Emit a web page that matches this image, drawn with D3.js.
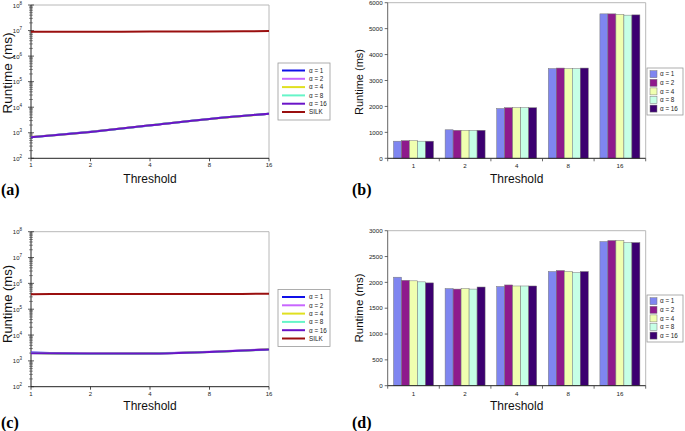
<!DOCTYPE html>
<html><head><meta charset="utf-8">
<script src="https://cdn.jsdelivr.net/npm/d3@7/dist/d3.min.js"></script>
<style>body{margin:0;background:#fff}svg{display:block}</style>
</head><body>
<svg id="c" width="685" height="431"></svg>
<script>
const thresholds = ["1","2","4","8","16"];
const alphaLabels = ["α = 1","α = 2","α = 4","α = 8","α = 16"];
// Dataset 1 (panels a, b): runtime per alpha at each threshold
const runA1  = [660, 1100, 1920, 3460, 5570];
const runA2  = [680, 1080, 1950, 3480, 5570];
const runA4  = [680, 1080, 1950, 3460, 5550];
const runA8  = [660, 1080, 1950, 3460, 5520];
const runA16 = [660, 1080, 1950, 3480, 5530];
const silkTop = [9.0e6, 9.0e6, 9.1e6, 9.2e6, 9.5e6];
// Dataset 2 (panels c, d)
const runB1  = [2100, 1880, 1920, 2210, 2790];
const runB2  = [2040, 1870, 1950, 2230, 2810];
const runB4  = [2030, 1880, 1930, 2210, 2810];
const runB8  = [2010, 1870, 1930, 2190, 2770];
const runB16 = [1990, 1910, 1930, 2210, 2770];
const silkBottom = [3.8e5, 3.9e5, 3.9e5, 3.9e5, 3.95e5];
const barTicksTop = [0,1000,2000,3000,4000,5000,6000];
const barTicksBottom = [0,500,1000,1500,2000,2500,3000];
const logExponents = [2,3,4,5,6,7,8];

const lineColors = ["#1010e8","#c866ff","#e0e020","#66f5c8","#6a14c8","#9a0f0f"];
const barColors = ["#7f86f0","#8e1a8c","#f0ffb0","#c6ffe6","#3c0070"];

const svg = d3.select("#c");
const FONT = "'Liberation Sans', Arial, sans-serif";

function lineChart(o, series, silk) {
  const g = svg.append("g");
  const x = d3.scalePoint().domain(thresholds).range([o.x0, o.x1]);
  const y = d3.scaleLog().domain([1e2, 1e8]).range([o.y1, o.y0]);
  // frame
  g.append("line").attr("x1",o.x0).attr("x2",o.x1).attr("y1",o.y0).attr("y2",o.y0).attr("stroke","#b8b8b8");
  g.append("line").attr("x1",o.x1).attr("x2",o.x1).attr("y1",o.y0).attr("y2",o.y1).attr("stroke","#b8b8b8");
  // y axis with minor ticks
  const minor = [];
  for (let e = 2; e < 8; e++) for (let m = 2; m <= 9; m++) minor.push(m * Math.pow(10, e));
  g.selectAll(".mn").data(minor).join("line")
    .attr("x1",o.x0-2).attr("x2",o.x0+2).attr("y1",d=>y(d)).attr("y2",d=>y(d))
    .attr("stroke","#555").attr("stroke-width",0.6);
  g.selectAll(".mj").data(logExponents).join("line")
    .attr("x1",o.x0-3).attr("x2",o.x0+3).attr("y1",d=>y(Math.pow(10,d))).attr("y2",d=>y(Math.pow(10,d)))
    .attr("stroke","#333").attr("stroke-width",0.8);
  const lab = g.selectAll(".yl").data(logExponents).join("text")
    .attr("x",o.x0-9).attr("y",d=>y(Math.pow(10,d))+2.5)
    .attr("text-anchor","end").attr("font-family",FONT).attr("font-size",6).attr("fill","#222");
  lab.append("tspan").text("10");
  lab.append("tspan").attr("dy",-3).attr("font-size",4.5).text(d=>d);
  g.append("line").attr("x1",o.x0).attr("x2",o.x0).attr("y1",o.y0).attr("y2",o.y1).attr("stroke","#222").attr("stroke-width",1);
  // x axis
  g.append("line").attr("x1",o.x0).attr("x2",o.x1).attr("y1",o.y1).attr("y2",o.y1).attr("stroke","#222").attr("stroke-width",1);
  g.selectAll(".xt").data(thresholds).join("line")
    .attr("x1",d=>x(d)).attr("x2",d=>x(d)).attr("y1",o.y1).attr("y2",o.y1+3).attr("stroke","#222").attr("stroke-width",0.8);
  g.selectAll(".xl").data(thresholds).join("text")
    .attr("x",d=>x(d)).attr("y",o.y1+9).attr("text-anchor","middle")
    .attr("font-family",FONT).attr("font-size",6).attr("fill","#222").text(d=>d);
  // lines
  const line = d3.line().x((d,i)=>x(thresholds[i])).y(d=>y(d)).curve(d3.curveMonotoneX);
  const all = series.concat([silk]);
  all.forEach((s,i)=>{
    g.append("path").datum(s).attr("d",line).attr("fill","none")
      .attr("stroke",lineColors[i]).attr("stroke-width",2);
  });
  // legend
  const lg = g.append("g");
  lg.append("rect").attr("x",o.lx).attr("y",o.ly).attr("width",52).attr("height",57)
    .attr("fill","#fff").attr("stroke","#999").attr("stroke-width",0.8);
  const names = alphaLabels.concat(["SILK"]);
  names.forEach((n,i)=>{
    const yy = o.ly + 7.5 + i*8.3;
    lg.append("line").attr("x1",o.lx+4).attr("x2",o.lx+27).attr("y1",yy).attr("y2",yy)
      .attr("stroke",lineColors[i]).attr("stroke-width",2);
    lg.append("text").attr("x",o.lx+31).attr("y",yy+2.3).attr("font-family",FONT)
      .attr("font-size",6.3).attr("fill","#222").text(n);
  });
  titles(o);
}

function barChart(o, series, ticks, ymax) {
  const g = svg.append("g");
  const x = d3.scaleBand().domain(thresholds).range([o.x0, o.x1]).paddingInner(0.225).paddingOuter(0.1125);
  const xi = d3.scaleBand().domain(d3.range(series.length)).range([0, x.bandwidth()]);
  const y = d3.scaleLinear().domain([0, ymax]).range([o.y1, o.y0]);
  const step = x.step();
  g.append("line").attr("x1",o.x0).attr("x2",o.x1).attr("y1",o.y0).attr("y2",o.y0).attr("stroke","#b8b8b8");
  g.append("line").attr("x1",o.x1).attr("x2",o.x1).attr("y1",o.y0).attr("y2",o.y1).attr("stroke","#b8b8b8");
  // bars
  series.forEach((s,si)=>{
    g.selectAll(".b"+si).data(s).join("rect")
      .attr("x",(d,i)=>x(thresholds[i])+xi(si))
      .attr("y",d=>y(d)).attr("width",xi.bandwidth()).attr("height",d=>y(0)-y(d))
      .attr("fill",barColors[si]).attr("stroke","#777").attr("stroke-width",0.5);
  });
  // y axis
  g.append("line").attr("x1",o.x0).attr("x2",o.x0).attr("y1",o.y0).attr("y2",o.y1).attr("stroke","#555").attr("stroke-width",0.9);
  g.selectAll(".yt").data(ticks).join("line")
    .attr("x1",o.x0-3).attr("x2",o.x0).attr("y1",d=>y(d)).attr("y2",d=>y(d)).attr("stroke","#444").attr("stroke-width",0.8);
  g.selectAll(".yl").data(ticks).join("text")
    .attr("x",o.x0-5).attr("y",d=>y(d)+2.2).attr("text-anchor","end")
    .attr("font-family",FONT).attr("font-size",6.2).attr("fill","#222").text(d=>d);
  // x axis
  g.append("line").attr("x1",o.x0).attr("x2",o.x1).attr("y1",o.y1).attr("y2",o.y1).attr("stroke","#222").attr("stroke-width",1);
  const bounds = thresholds.map(t=>x(t)-step*0.1125).concat([o.x1]);
  g.selectAll(".xt").data(bounds).join("line")
    .attr("x1",d=>d).attr("x2",d=>d).attr("y1",o.y1).attr("y2",o.y1+3).attr("stroke","#444").attr("stroke-width",0.8);
  g.selectAll(".xl").data(thresholds).join("text")
    .attr("x",d=>x(d)+x.bandwidth()/2).attr("y",o.y1+10).attr("text-anchor","middle")
    .attr("font-family",FONT).attr("font-size",6.2).attr("fill","#222").text(d=>d);
  // legend
  const lg = g.append("g");
  lg.append("rect").attr("x",o.lx).attr("y",o.ly).attr("width",36).attr("height",47)
    .attr("fill","#fff").attr("stroke","#999").attr("stroke-width",0.8);
  alphaLabels.forEach((n,i)=>{
    const yy = o.ly + 6 + i*8.6;
    lg.append("rect").attr("x",o.lx+3).attr("y",yy-3.3).attr("width",7).attr("height",7)
      .attr("fill",barColors[i]).attr("stroke","#777").attr("stroke-width",0.5);
    lg.append("text").attr("x",o.lx+13).attr("y",yy+2.3).attr("font-family",FONT)
      .attr("font-size",6.3).attr("fill","#222").text(n);
  });
  titles(o);
}

function titles(o) {
  svg.append("text").attr("x",(o.x0+o.x1)/2).attr("y",o.tb).attr("text-anchor","middle")
    .attr("font-family",FONT).attr("font-size",12).attr("fill","#111").text("Threshold");
  svg.append("text").attr("transform",`translate(${o.yx},${o.yc}) rotate(-90)`).attr("text-anchor","middle")
    .attr("font-family",FONT).attr("font-size",o.yfs).attr("fill","#111").text("Runtime (ms)");
  svg.append("text").attr("x",o.px).attr("y",o.pb).attr("font-family","'Liberation Serif','DejaVu Serif',serif")
    .attr("font-weight","bold").attr("font-size",16).attr("fill","#000").text(o.panel);
}

lineChart({x0:31,x1:269,y0:5,y1:158.3,lx:278,ly:63,tb:183,yx:12,yc:73,yfs:13.5,px:1,pb:195,panel:"(a)"},
  [runA1,runA2,runA4,runA8,runA16], silkTop);
barChart({x0:387.7,x1:645.7,y0:2.7,y1:158.3,lx:647,ly:68,tb:182.5,yx:363,yc:82,yfs:11,px:352,pb:195,panel:"(b)"},
  [runA1,runA2,runA4,runA8,runA16], barTicksTop, 6000);
lineChart({x0:31,x1:269,y0:231.7,y1:386.7,lx:278,ly:289.5,tb:410,yx:12,yc:304,yfs:13,px:1,pb:428,panel:"(c)"},
  [runB1,runB2,runB4,runB8,runB16], silkBottom);
barChart({x0:387.7,x1:645.7,y0:230.7,y1:385.7,lx:647,ly:295,tb:409.5,yx:363,yc:308,yfs:11.5,px:352,pb:428,panel:"(d)"},
  [runB1,runB2,runB4,runB8,runB16], barTicksBottom, 3000);
</script>
</body></html>
